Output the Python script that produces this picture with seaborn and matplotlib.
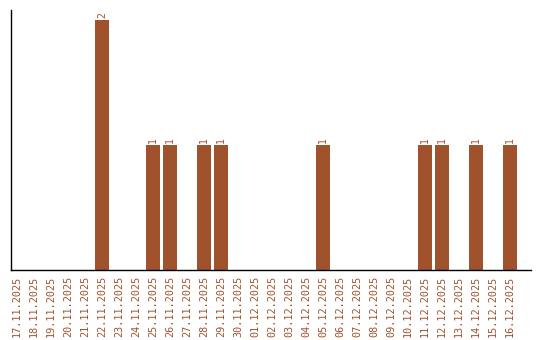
import matplotlib
matplotlib.use("Agg")
import matplotlib.pyplot as plt
import seaborn as sns
import pandas as pd

dates = ["17.11.2025", "18.11.2025", "19.11.2025", "20.11.2025", "21.11.2025",
         "22.11.2025", "23.11.2025", "24.11.2025", "25.11.2025", "26.11.2025",
         "27.11.2025", "28.11.2025", "29.11.2025", "30.11.2025", "01.12.2025",
         "02.12.2025", "03.12.2025", "04.12.2025", "05.12.2025", "06.12.2025",
         "07.12.2025", "08.12.2025", "09.12.2025", "10.12.2025", "11.12.2025",
         "12.12.2025", "13.12.2025", "14.12.2025", "15.12.2025", "16.12.2025"]
counts = [0, 0, 0, 0, 0, 2, 0, 0, 1, 1, 0, 1, 1, 0, 0, 0, 0, 0, 1, 0,
          0, 0, 0, 0, 1, 1, 0, 1, 0, 1]

color = "#A0522D"
sns.set_style("white")
plt.rcParams['font.family'] = ['DejaVu Sans Mono']

df = pd.DataFrame({"date": dates, "count": counts})

fig = plt.figure(figsize=(5.4, 3.4), dpi=100)
ax = fig.add_axes([11/540, 70/340, 520/540, 260/340])
sns.barplot(data=df, x="date", y="count", color=color, saturation=1,
            width=0.82, linewidth=0, ax=ax)

for i, v in enumerate(counts):
    if v > 0:
        ax.text(i, v + 0.015, str(v), rotation=90, ha="center", va="bottom",
                fontsize=7, color=color)

ax.set_xlim(-0.35, 30.24)
ax.set_ylim(0, 2.08)
ax.set_xlabel("")
ax.set_ylabel("")
ax.set_yticks([])
ax.tick_params(axis="x", length=0, pad=4, labelsize=7.3, labelcolor=color,
               labelrotation=90)
for s in ["top", "right"]:
    ax.spines[s].set_visible(False)
for s in ["left", "bottom"]:
    ax.spines[s].set_color("black")
    ax.spines[s].set_linewidth(1.0)

fig.savefig("out.png", dpi=100)
